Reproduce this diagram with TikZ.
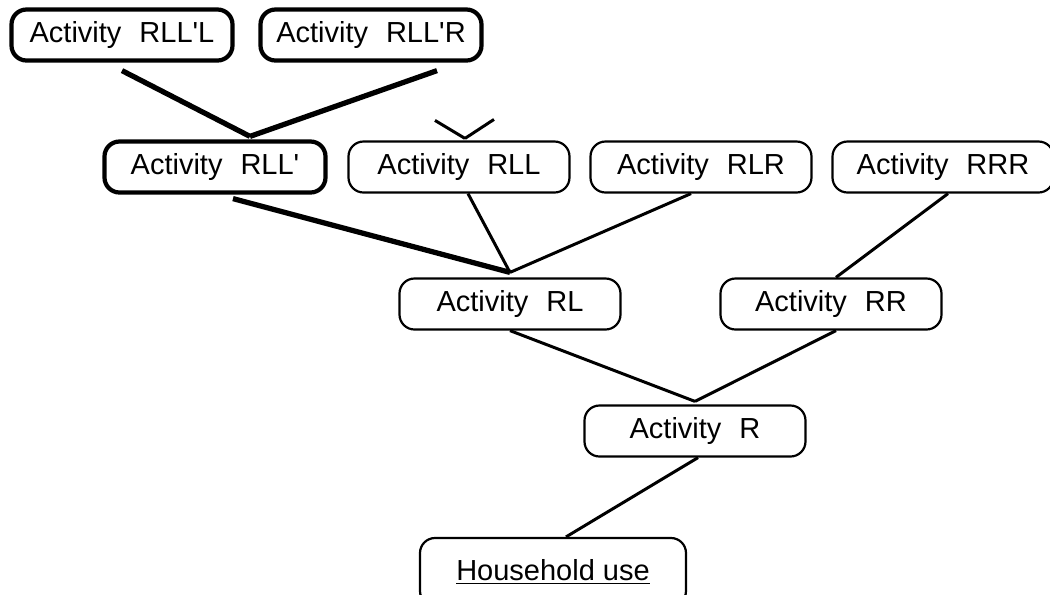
\documentclass[tikz,border=0pt]{standalone}
\usepackage{fontspec}
\setmainfont{Liberation Sans}
\usepackage{tikz}
\usetikzlibrary{positioning}
\newcommand{\actname}[1]{Activity\hspace{0.36cm}#1}
\newcommand{\pr}{\textquotesingle}

\begin{document}
\begin{tikzpicture}[node distance=3cm,on grid,
  act/.style={draw,rounded corners=0.3cm,minimum width=4.42cm,minimum height=1.02cm,
    line width=1.25pt,inner sep=0pt,font=\fontsize{16.5}{19}\selectfont},
  boldact/.style={act,line width=2.4pt},
  link/.style={line width=1.7pt},
  heavy/.style={line width=3pt}]
  \clip (0,0) rectangle (21,-11.88);

  \node[act] (aR) at (13.90,-8.62) {\actname{R}};

  \node[act] (aRL) [above left = 2.54cm and 3.70cm of aR] {\actname{RL}};
  \node[act] (aRR) [above right = 2.54cm and 2.72cm of aR] {\actname{RR}};
  \node[act,minimum width=5.32cm,minimum height=1.36cm] (home) [below left = 2.82cm and 2.84cm of aR] {\underline{Household use}};
  \node[act] (aRLL) [above left = 2.74cm and 1.02cm of aRL] {\actname{RLL}};
  \node[act] (aRLR) [right = 4.84cm of aRLL] {\actname{RLR}};
  \node[act] (aRRR) [right = 4.84cm of aRLR] {\actname{RRR}};
  \node[boldact] (aRLLp) [left = 4.88cm of aRLL] {\actname{RLL\pr}};
  \node[boldact] (aRLLpL) [above left = 2.64cm and 1.86cm of aRLLp] {\actname{RLL\pr L}};
  \node[boldact] (aRLLpR) [right = 4.98cm of aRLLpL] {\actname{RLL\pr R}};

  \coordinate (vL) at ([xshift=-0.48cm,yshift=0.40cm]aRLL.north);
  \coordinate (vR) at ([xshift=0.70cm,yshift=0.42cm]aRLL.north);

  \path[heavy]
  ([yshift=-0.16cm]aRLLpL.south)
  edge ([xshift=0.70cm,yshift=0.06cm]aRLLp.north)
  ([xshift=1.32cm,yshift=-0.16cm]aRLLpR.south)
  edge ([xshift=0.70cm,yshift=0.06cm]aRLLp.north)
  ([xshift=0.36cm,yshift=-0.08cm]aRLLp.south)
  edge ([yshift=0.10cm]aRL.north)
  ;
  \path[link]
  ([xshift=0.18cm]aRLL.south) edge ([yshift=0.10cm]aRL.north)
  ([xshift=-0.20cm]aRLR.south) edge ([yshift=0.10cm]aRL.north)
  ([xshift=0.10cm]aRRR.south) edge ([xshift=0.10cm]aRR.north)
  (aRL.south) edge ([yshift=0.06cm]aR.north)
  ([xshift=0.10cm]aRR.south) edge ([yshift=0.06cm]aR.north)
  ([xshift=0.06cm]aR.south) edge ([xshift=0.26cm]home.north)
  ([xshift=0.12cm,yshift=0.04cm]aRLL.north) edge (vL)
  ([xshift=0.12cm,yshift=0.04cm]aRLL.north) edge (vR)
  ;
\end{tikzpicture}
\end{document}
